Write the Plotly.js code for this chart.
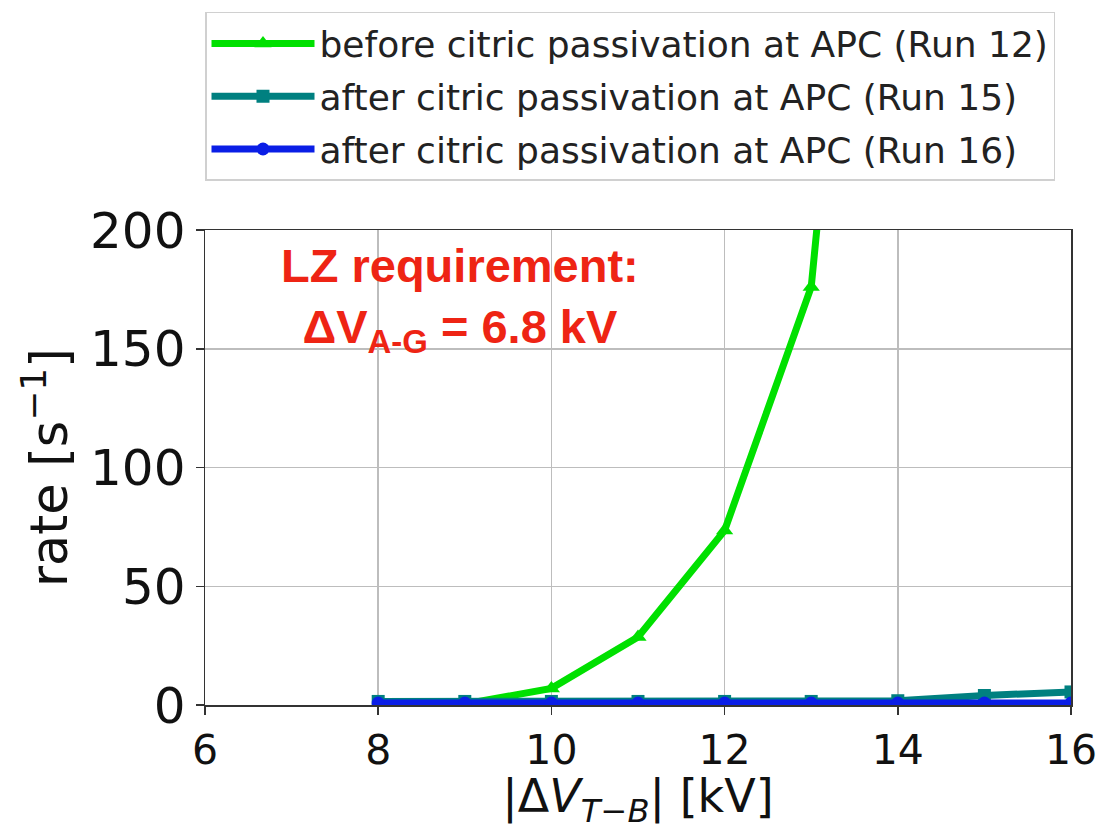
<!DOCTYPE html>
<html>
<head>
<meta charset="utf-8">
<script src="https://cdn.plot.ly/plotly-3.0.1.min.js"></script>
<style>html,body{margin:0;padding:0;background:#fff;}#plot{width:1096px;height:830px;}</style>
</head>
<body>
<div id="plot"></div>
<script>
// Data
const voltage = [8, 9, 10, 11, 12, 13, 14, 15, 16];
const run12 = [0.2, 0.4, 7, 28.6, 73.5, 176, 550, null, null];
const run15 = [1.5, 1.5, 1.5, 1.5, 1.5, 1.5, 1.8, 4, 5.5];
const run16 = [0.8, 0.8, 0.8, 0.8, 0.8, 0.8, 0.8, 0.8, 0.8];
const names = [
  'before citric passivation at APC (Run 12)',
  'after citric passivation at APC (Run 15)',
  'after citric passivation at APC (Run 16)'
];
const xTicks = [6, 8, 10, 12, 14, 16];
const yTicks = [0, 50, 100, 150, 200];

const traces = [
  {x: voltage, y: run12, name: names[0], mode: 'lines+markers', legendgroup: 'a',
   line: {color: '#00e000', width: 7}, marker: {symbol: 'triangle-up', size: 15, color: '#00e000'}},
  {x: voltage, y: run15, name: names[1], mode: 'lines+markers', legendgroup: 'b',
   line: {color: '#008080', width: 7}, marker: {symbol: 'square', size: 13, color: '#008080'}},
  {x: voltage, y: run16, name: names[2], mode: 'lines+markers', legendgroup: 'c',
   line: {color: '#0a1ee6', width: 7}, marker: {symbol: 'circle', size: 13, color: '#0a1ee6'}}
];

const layout = {
  width: 1096, height: 830,
  margin: {l: 205, r: 25, t: 230, b: 125},
  paper_bgcolor: '#fff', plot_bgcolor: '#fff',
  font: {family: 'DejaVu Sans', color: '#111'},
  showlegend: true,
  legend: {
    x: 0, y: 1.459, xanchor: 'left', yanchor: 'top',
    font: {size: 36, family: 'DejaVu Sans', color: '#222'},
    bgcolor: '#fff', bordercolor: '#d0d0d0', borderwidth: 1.5,
    itemwidth: 103, tracegroupgap: 3, traceorder: 'grouped'
  },
  xaxis: {
    range: [6, 16], tickvals: xTicks, ticktext: xTicks.map(String),
    tickfont: {size: 41, family: 'DejaVu Sans', color: '#111'},
    ticklabeloverflow: 'allow',
    ticks: 'outside', ticklen: 8, tickwidth: 1.5, tickcolor: '#333',
    showline: true, linecolor: '#333', linewidth: 1.5, mirror: true,
    showgrid: true, gridcolor: '#bdbdbd', gridwidth: 1.5, zeroline: false,
    title: {text: '|Δ<i>V</i><sub><i>T</i>−<i>B</i></sub>| [kV]', font: {size: 46, family: 'DejaVu Sans', color: '#111'}, standoff: 16}
  },
  yaxis: {
    range: [0, 200], tickvals: yTicks, ticktext: yTicks.map(String),
    tickfont: {size: 50, family: 'DejaVu Sans', color: '#111'},
    ticks: 'outside', ticklen: 8, tickwidth: 1.5, tickcolor: '#333',
    showline: true, linecolor: '#333', linewidth: 1.5, mirror: true,
    showgrid: true, gridcolor: '#bdbdbd', gridwidth: 1.5, zeroline: false,
    title: {text: 'rate [s<sup>−1</sup>]', font: {size: 51, family: 'DejaVu Sans', color: '#111'}, standoff: 6}
  },
  annotations: [{
    xref: 'paper', yref: 'paper', x: 0.294, y: 0.853, xanchor: 'center', yanchor: 'middle',
    text: '<b>LZ requirement:</b><br><b>ΔV<sub>A-G</sub> = 6.8 kV</b>',
    showarrow: false, align: 'center',
    font: {size: 47, family: 'Liberation Sans', color: '#ee2414'}
  }]
};

Plotly.newPlot('plot', traces, layout, {displayModeBar: false, staticPlot: true});
</script>
</body>
</html>
